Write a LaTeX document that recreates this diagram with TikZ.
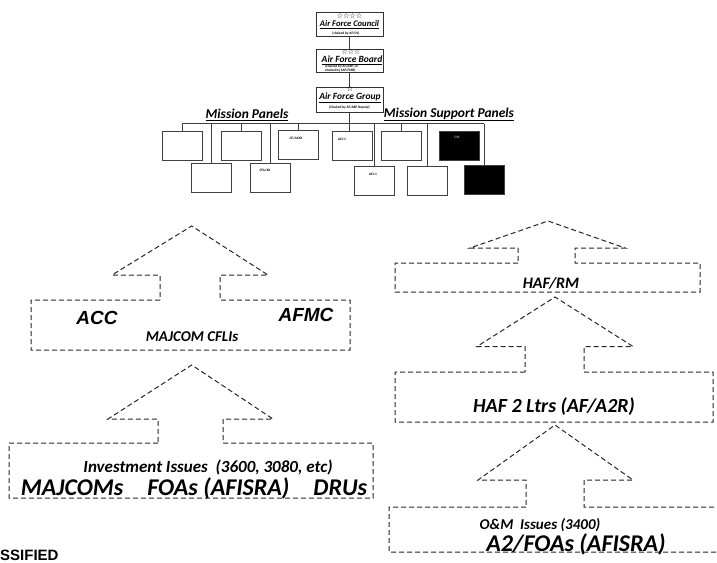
\documentclass[tikz,border=0pt]{standalone}
\usepackage{fontspec}
\setmainfont{Carlito}
\newfontfamily\symfont{DejaVu Sans}
\newfontfamily\arialfont{Liberation Sans}

\tikzset{
  orgbox/.style={draw=black!80, line width=0.9pt, minimum width=67pt, inner sep=0pt},
  panel/.style={draw=black!75, line width=1pt, minimum width=40pt, minimum height=29pt, inner sep=0pt},
  darkpanel/.style={panel, fill=black},
  wire/.style={draw=black!75, line width=1pt},
  flow/.style={draw=black!85, line width=1pt, dash pattern=on 5pt off 3pt},
  stars/.style={inner sep=0pt, font=\symfont\bfseries\fontsize{7}{7}\selectfont},
  tiny/.style={font=\bfseries\fontsize{3.5}{4}\selectfont, inner sep=0pt},
  headtext/.style={font=\bfseries\itshape\fontsize{9.5}{10}\selectfont, inner sep=0pt},
  grouptext/.style={font=\bfseries\itshape\fontsize{13.5}{14}\selectfont, inner sep=0pt},
  bigtext/.style={font=\bfseries\itshape\fontsize{24}{24}\selectfont, inner sep=0pt},
  cmdtext/.style={font=\arialfont\bfseries\itshape\fontsize{19}{19}\selectfont, inner sep=0pt},
}

\begin{document}
\begin{tikzpicture}[x=1pt,y=-1pt]
\useasboundingbox (0,0) rectangle (717,562);

% corporate structure
\node[orgbox, minimum height=24pt] (council) at (349.5,24) {};
\node[orgbox, minimum height=23.5pt] (board) at (349.5,61) {};
\node[orgbox, minimum height=25pt] (group) at (349.5,100) {};
\draw[wire] (council.south) -- (board.north);
\draw[wire] (board.south) -- (group.north);

\node[stars] (cstars) at (349.5,15.5) {☆☆☆☆};
\node[headtext, font=\bfseries\itshape\fontsize{8.6}{9}\selectfont] (ctitle) at (349.5,24.5) {\underline{Air Force Council}};
\node[tiny] (cnote) at (346,33) {(chaired by AF/CV)};
\node[stars] (bstars) at (351,52.3) {☆☆☆};
\node[headtext] (btitle) at (352,60.5) {\underline{Air Force Board}};
\node[tiny, align=left] (bnote) at (342,68.3) {(Chaired by AF/A8P, co-\\chaired by SAF/FMB)};
\node[stars, font=\symfont\bfseries\fontsize{8}{8}\selectfont] (gstar) at (350,88.5) {☆};
\node[headtext] (gtitle) at (350,98) {\underline{Air Force Group}};
\node[tiny] (gnote) at (349.5,107) {(Chaired by AF/A8P Deputy)};

\node[grouptext] (mp) at (247,115) {\underline{Mission Panels}};
\node[grouptext] (msp) at (449,114.5) {\underline{Mission Support Panels}};

% panels
\node[panel] (pa) at (182,145.5) {};
\node[panel] (pb) at (241,145.5) {};
\node[panel] (pc) at (298,144.5) {};
\node[panel] (pd) at (352,146.3) {};
\node[panel] (pe) at (401.7,146.3) {};
\node[darkpanel] (pf) at (459,145.8) {};
\node[panel] (pg) at (211,178.3) {};
\node[panel] (ph) at (270,177.5) {};
\node[panel] (pi) at (374,180.5) {};
\node[panel] (pj) at (427.5,180.5) {};
\node[darkpanel] (pk) at (484,179.5) {};

\node[tiny, font=\bfseries\itshape\fontsize{3.5}{4}\selectfont] (pctext) at (296,138) {CE/AXXX};
\node[tiny] (pdtext) at (342,139) {ACI-1};
\node[tiny, text=white!70!black] (pftext) at (457,137) {CW};
\node[tiny] (phtext) at (265,170) {CFA/XX};
\node[tiny] (pitext) at (373,174) {ACI-1};

\coordinate (busL) at (182,123.5);
\coordinate (busR) at (484,123.5);
\draw[wire] (busL) -- (busR);
\foreach \p in {pa,pb,pc,pe,pg,ph,pi,pj,pk}
  \draw[wire] (\p.north) -- (\p.north |- busL);
\draw[wire] (group.south) -- (group.south |- pd.north);

% investment side
\draw[flow] (160,300) -- (31,300) -- (31,350) -- (350,350) -- (350,300) -- (220,300)
  -- (220,275) -- (268,275) -- (191.7,226) -- (112,275) -- (160,275) -- cycle;
\draw[flow] (158,443) -- (9,443) -- (9,498) -- (373,498) -- (373,443) -- (223,443)
  -- (223,419) -- (273,419) -- (191.7,365) -- (108,419) -- (158,419) -- cycle;

\node[cmdtext] (acc) at (97,318) {ACC};
\node[cmdtext] (afmc) at (306,315) {AFMC};
\node[bigtext, font=\bfseries\itshape\fontsize{15}{15}\selectfont] (cfli) at (192,337) {MAJCOM CFLIs};
\node[bigtext, font=\bfseries\itshape\fontsize{17}{17}\selectfont] (invest) at (208,467) {Investment Issues\ \ (3600, 3080, etc)};
\node[bigtext] (units) at (194,488) {MAJCOMs\quad FOAs (AFISRA)\quad DRUs};

% O&M side
\draw[flow] (518,263) -- (395,263) -- (395,292) -- (700,292) -- (700,263) -- (575,263)
  -- (575,248) -- (625,248) -- (548,221) -- (470,248) -- (518,248) -- cycle;
\draw[flow] (525,372) -- (395,372) -- (395,422) -- (713,422) -- (713,372) -- (584,372)
  -- (584,346.5) -- (633,346.5) -- (555,297) -- (477,346.5) -- (525,346.5) -- cycle;
\draw[flow] (526,507) -- (389,507) -- (389,552) -- (718,552) -- (718,507) -- (584,507)
  -- (584,480) -- (633,480) -- (555,425) -- (478,480) -- (526,480) -- cycle;

\node[bigtext, font=\bfseries\itshape\fontsize{16}{16}\selectfont] (hafrm) at (551,283) {HAF/RM};
\node[bigtext, font=\bfseries\itshape\fontsize{20}{20}\selectfont] (haf2) at (554,407) {HAF 2 Ltrs (AF/A2R)};
\node[bigtext, font=\bfseries\itshape\fontsize{15}{15}\selectfont] (om) at (540,525) {O\&M\ \ Issues (3400)};
\node[bigtext] (a2) at (576,544) {A2/FOAs (AFISRA)};

\node[anchor=west, inner sep=0pt, font=\arialfont\bfseries\fontsize{15}{15}\selectfont] (mark) at (0,555) {SSIFIED};
\end{tikzpicture}
\end{document}
